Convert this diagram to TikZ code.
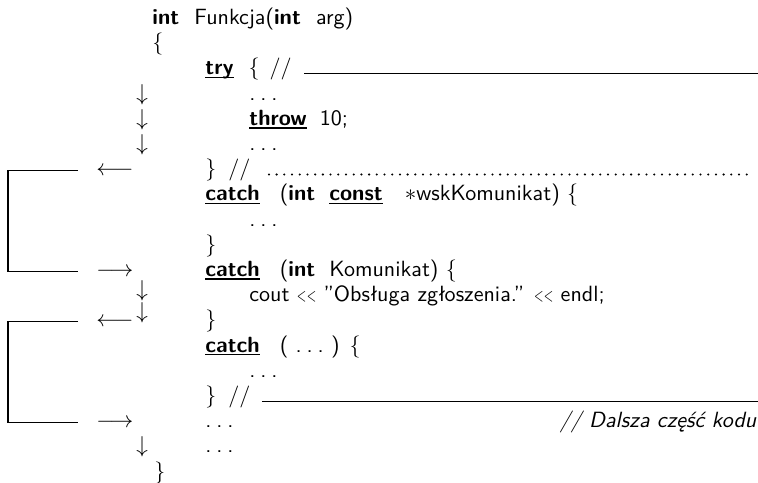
\documentclass[tikz,border=0pt]{standalone}
\usepackage{fontspec}
\usepackage{graphicx}
\usetikzlibrary{calc}
\newlength\pxu
\setlength\pxu{0.47619pt}
\newcommand\gap[1]{\hspace*{#1\pxu}}
\newsavebox\kwbox
\newcommand\kw[1]{\sbox\kwbox{\textbf{#1}}\rlap{\rule[-1.6pt]{\wd\kwbox}{0.7pt}}\usebox\kwbox}
\newcommand\dts{.\kern2.3pt.\kern2.3pt.}
\newcommand\ltc{\scalebox{0.55}[0.85]{<}}
\newcommand\lsh{\ltc\kern0.2pt\ltc}
\begin{document}
\begin{tikzpicture}[x=0.47619pt, y=-0.47619pt,
  code/.style={anchor=base west, inner sep=0pt, font=\fontsize{10.5}{12.6}\selectfont\sffamily},
  sym/.style={anchor=base west, inner sep=0pt, font=\fontsize{10.5}{12.6}\selectfont},
  brk/.style={line width=0.5pt},
  rulel/.style={line width=0.7pt},
  dotl/.style={line width=1.1pt, line cap=round, dash pattern=on 0pt off 3.67pt}]
\useasboundingbox (0,0) rectangle (758,483);
% code lines
\node[code] (r0) at (152,24.5) {\textbf{int}\gap{15}Funkcja(\textbf{int}\gap{15}arg)};
\node[code] (r1) at (152,49.7) {\{};
\node[code] (r2) at (205,74.9) {\kw{try}\gap{15}\{\gap{10}//};
\node[code] (r3) at (249,100.1) {\dts};
\node[code] (r4) at (249,125.3) {\kw{throw}\gap{13}10;};
\node[code] (r5) at (249,150.5) {\dts};
\node[code] (r6) at (205,175.7) {\}\gap{12}//};
\node[code] (r7) at (205,200.9) {\kw{catch}\gap{20}(\textbf{int}\gap{14}\kw{const}\gap{22}$\ast$wskKomunikat) \{};
\node[code] (r8) at (249,226.1) {\dts};
\node[code] (r9) at (205,251.3) {\}};
\node[code] (r10) at (205,276.5) {\kw{catch}\gap{20}(\textbf{int}\gap{14}Komunikat) \{};
\node[code] (r11) at (249,301.7) {cout \lsh{} ”Obsługa zgłoszenia.” \lsh{} endl;};
\node[code] (r12) at (205,326.9) {\}};
\node[code] (r13) at (205,352.1) {\kw{catch}\gap{20}(\ \dts\ ) \{};
\node[code] (r14) at (249,377.3) {\dts};
\node[code] (r15) at (205,402.5) {\}\gap{12}//};
\node[code] (r16) at (205,427.7) {\dts};
\node[code, anchor=base east] (cm) at (757,427.7) {\textit{// Dalsza część kodu}};
\node[code] (r17) at (205,452.9) {\dts};
\node[code] (r18) at (154,478.1) {\}};
% flow arrows
\node[sym] (d3) at (136,100.1) {$\downarrow$};
\node[sym] (d4) at (136,125.3) {$\downarrow$};
\node[sym] (d5) at (136,150.5) {$\downarrow$};
\node[sym] (d11) at (136,296.7) {$\downarrow$};
\node[sym] (d12) at (136,318.9) {$\downarrow$};
\node[sym] (d17) at (136,452.9) {$\downarrow$};
\node[sym] (a6) at (96,175.7) {$\longleftarrow$};
\node[sym] (a10) at (96,276.5) {$\longrightarrow$};
\node[sym] (a12) at (96,326.9) {$\longleftarrow$};
\node[sym] (a16) at (96,427.7) {$\longrightarrow$};
% brackets
\coordinate (bl) at (8,0);
\coordinate (b1t) at (78,170.5);
\coordinate (b1b) at (78,271.3);
\coordinate (b2t) at (78,321.7);
\coordinate (b2b) at (78,422.5);
\draw[brk] (b1t) -- (b1t -| bl) -- (b1b -| bl) -- (b1b);
\draw[brk] (b2t) -- (b2t -| bl) -- (b2b -| bl) -- (b2b);
% rules on the right
\coordinate (RE) at (758,0);
\coordinate (DE) at (748,0);
\draw[rulel] ([shift={(12,-1.5)}]r2.base east) -- ($(r2.base east -| RE)+(0,-1.5)$);
\draw[rulel] ([shift={(11,-1.2)}]r15.base east) -- ($(r15.base east -| RE)+(0,-1.2)$);
\draw[dotl] ([shift={(18,-1.2)}]r6.base east) -- ($(r6.base east -| DE)+(0,-1.2)$);
\end{tikzpicture}
\end{document}
